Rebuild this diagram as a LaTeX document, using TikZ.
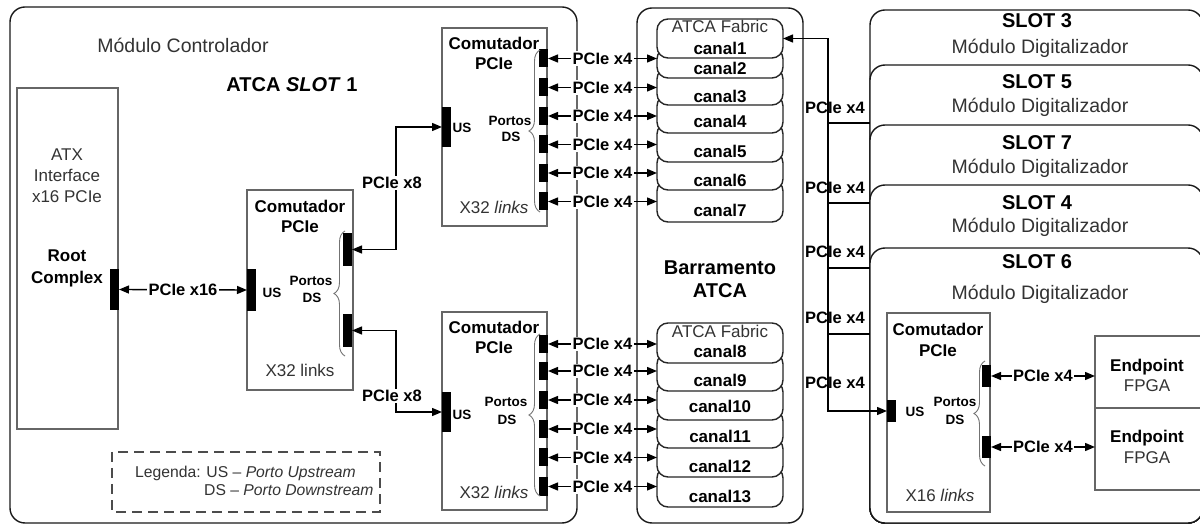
\documentclass[tikz,border=0pt]{standalone}
\usepackage{fontspec}
\setmainfont{Liberation Sans}
\usetikzlibrary{arrows.meta,decorations.pathreplacing}
\begin{document}
\begin{tikzpicture}[x=1pt,y=-1pt, >={Triangle[length=10pt,width=8pt]},
  frame/.style={draw=black!90, line width=1.4pt, rounded corners=15pt, fill=white, inner sep=0pt, outer sep=0pt, anchor=north west},
  rect/.style={draw=black!60, line width=1.3pt, fill=white, inner sep=0pt, outer sep=0pt, anchor=north west},
  port/.style={fill=black, draw=none, inner sep=0pt, outer sep=0pt, minimum width=9pt},
  canalbox/.style={draw=black!85, line width=1.4pt, rounded corners=11pt, fill=white, inner sep=0pt, outer sep=0pt, anchor=north west, minimum width=126pt},
  ln/.style={line width=1.4pt, draw=black},
  brc/.style={draw=black!55, line width=0.9pt, decorate, decoration={brace, amplitude=11pt}},
  lbl/.style={font=\fontsize{16.5}{18}\selectfont\bfseries, fill=white, inner sep=1.5pt},
  blbl/.style={font=\fontsize{16.5}{18}\selectfont\bfseries, inner sep=0pt},
  tR/.style={font=\fontsize{17}{20}\selectfont, text=black!80, anchor=base, inner sep=0pt},
  tB/.style={font=\fontsize{17}{20}\selectfont\bfseries, anchor=base, inner sep=0pt},
  tBig/.style={font=\fontsize{20}{23}\selectfont\bfseries, anchor=base, inner sep=0pt},
  tMid/.style={font=\fontsize{19.5}{22}\selectfont, text=black!80, anchor=base, inner sep=0pt},
  tS/.style={font=\fontsize{13.5}{15}\selectfont\bfseries, anchor=base, inner sep=0pt},
  tL/.style={font=\fontsize{15.7}{18}\selectfont, text=black!80, anchor=base west, inner sep=0pt},
]
\clip (0,0) rectangle (1200,526);
\fill[white] (0,0) rectangle (1200,526);

% main frames
\node[frame, minimum width=567pt, minimum height=516pt] (ctrl) at (10,7) {};
\node[frame, minimum width=166pt, minimum height=515pt] (bp) at (637,8) {};
\node[frame, minimum width=333pt, minimum height=513pt] (s3) at (870,10) {};
\node[frame, minimum width=333pt, minimum height=458pt] (s5) at (870,65) {};
\node[frame, minimum width=333pt, minimum height=398pt] (s7) at (870,125) {};
\node[frame, minimum width=333pt, minimum height=338pt] (s4) at (870,185) {};
\node[frame, minimum width=333pt, minimum height=275pt] (s6) at (870,248) {};

% rectangles
\node[rect, minimum width=101pt, minimum height=341pt] (atx) at (17,88) {};
\node[rect, minimum width=106pt, minimum height=200pt] (sw1) at (247,190) {};
\node[rect, minimum width=105pt, minimum height=198pt] (swa) at (442,28) {};
\node[rect, minimum width=105pt, minimum height=198pt] (swb) at (442,312) {};
\node[rect, minimum width=103pt, minimum height=199pt] (sw3) at (887,313) {};
\node[rect, minimum width=107pt, minimum height=72pt] (ep1) at (1095,336) {};
\node[rect, minimum width=107pt, minimum height=82pt] (ep2) at (1095,408) {};
\draw[dashed, dash pattern=on 10pt off 6pt, draw=black!70, line width=1.3pt] (112,452) rectangle (380,512);

% ports
\node[port, minimum height=41pt] (root) at (114.5,289.5) {};
\node[port, minimum height=42pt] (us1) at (251.5,290) {};
\node[port, minimum height=33pt] (ds1a) at (347.5,249.5) {};
\node[port, minimum height=33pt] (ds1b) at (347.5,330.5) {};
\node[port, minimum height=40pt] (usa) at (446.5,127) {};
\node[port, minimum height=40pt] (usb) at (446.5,412) {};
\node[port, minimum height=18pt] (pa1) at (543.5,58.5) {};
\node[port, minimum height=18pt] (pa2) at (543.5,87.5) {};
\node[port, minimum height=18pt] (pa3) at (543.5,116) {};
\node[port, minimum height=18pt] (pa4) at (543.5,144.5) {};
\node[port, minimum height=18pt] (pa5) at (543.5,173) {};
\node[port, minimum height=18pt] (pa6) at (543.5,201.5) {};
\node[port, minimum height=18pt] (pb1) at (543.5,344) {};
\node[port, minimum height=18pt] (pb2) at (543.5,371) {};
\node[port, minimum height=18pt] (pb3) at (543.5,400) {};
\node[port, minimum height=18pt] (pb4) at (543.5,429) {};
\node[port, minimum height=18pt] (pb5) at (543.5,457.5) {};
\node[port, minimum height=18pt] (pb6) at (543.5,486.5) {};
\node[port, minimum height=22pt] (us3) at (891.5,411) {};
\node[port, minimum height=22pt] (ds3a) at (986.5,376) {};
\node[port, minimum height=22pt] (ds3b) at (986.5,447) {};

% braces
\draw[brc] (345,356) -- (345,231);
\draw[brc] (540,212) -- (540,50);
\draw[brc] (540,496) -- (540,334);
\draw[brc] (985,466) -- (985,361);

% canal boxes (upper)
\node[canalbox, minimum height=42pt] (c7) at (657,180) {};
\node[canalbox, minimum height=38pt] (c6) at (657,152) {};
\node[canalbox, minimum height=39pt] (c5) at (657,123) {};
\node[canalbox, minimum height=38pt] (c4) at (657,95) {};
\node[canalbox, minimum height=37pt] (c3) at (657,68) {};
\node[canalbox, minimum height=30pt] (c2) at (657,48) {};
\node[canalbox, minimum height=39pt] (c1) at (657,19) {};
% canal boxes (lower)
\node[canalbox, minimum height=40pt] (c13) at (657,467) {};
\node[canalbox, minimum height=39pt] (c12) at (657,438) {};
\node[canalbox, minimum height=38pt] (c11) at (657,410) {};
\node[canalbox, minimum height=39pt] (c10) at (657,381) {};
\node[canalbox, minimum height=38pt] (c9) at (657,353) {};
\node[canalbox, minimum height=40pt] (c8) at (657,323) {};

% connectors
\draw[ln,<->] (root.east) -- (us1.west) node[lbl,midway] {PCIe x16};
\draw[ln,<->] (ds1a.east) -- ++(44,0) |- (usa.west);
\node[lbl] (x8a) at (392,183) {PCIe x8};
\draw[ln,<->] (ds1b.east) -- ++(44,0) |- (usb.west);
\node[lbl] (x8b) at (392,396) {PCIe x8};

\draw[ln,<->] (pa1.east) -- (pa1.east -| c1.west) node[lbl,midway] {PCIe x4};
\draw[ln,<->] (pa2.east) -- (pa2.east -| c2.west) node[lbl,midway] {PCIe x4};
\draw[ln,<->] (pa3.east) -- (pa3.east -| c3.west) node[lbl,midway] {PCIe x4};
\draw[ln,<->] (pa4.east) -- (pa4.east -| c4.west) node[lbl,midway] {PCIe x4};
\draw[ln,<->] (pa5.east) -- (pa5.east -| c5.west) node[lbl,midway] {PCIe x4};
\draw[ln,<->] (pa6.east) -- (pa6.east -| c6.west) node[lbl,midway] {PCIe x4};
\draw[ln,<->] (pb1.east) -- (pb1.east -| c8.west) node[lbl,midway] {PCIe x4};
\draw[ln,<->] (pb2.east) -- (pb2.east -| c9.west) node[lbl,midway] {PCIe x4};
\draw[ln,<->] (pb3.east) -- (pb3.east -| c10.west) node[lbl,midway] {PCIe x4};
\draw[ln,<->] (pb4.east) -- (pb4.east -| c11.west) node[lbl,midway] {PCIe x4};
\draw[ln,<->] (pb5.east) -- (pb5.east -| c12.west) node[lbl,midway] {PCIe x4};
\draw[ln,<->] (pb6.east) -- (pb6.east -| c13.west) node[lbl,midway] {PCIe x4};

\draw[ln,<->] (ds3a.east) -- (ds3a.east -| ep1.west) node[lbl,midway] {PCIe x4};
\draw[ln,<->] (ds3b.east) -- (ds3b.east -| ep2.west) node[lbl,midway] {PCIe x4};

% bus to digitizer slots
\coordinate (bus) at (828,38.5);
\coordinate (j5) at (828,123);
\coordinate (j4) at (828,203);
\coordinate (j6a) at (828,268);
\coordinate (j6b) at (828,334);
\draw[ln,<->] (c1.east) -- (bus) |- (us3.west);
\draw[ln] (j5) -- (j5 -| s5.west);
\draw[ln] (j4) -- (j4 -| s4.west);
\draw[ln] (j6a) -- (j6a -| s6.west);
\draw[ln] (j6b) -- (j6b -| s6.west);
\node[blbl] (bl1) at (835,107.5) {PCIe x4};
\node[blbl] (bl2) at (835,188) {PCIe x4};
\node[blbl] (bl3) at (835,252) {PCIe x4};
\node[blbl] (bl4) at (835,317.5) {PCIe x4};
\node[blbl] (bl5) at (835,383) {PCIe x4};

% texts: controller
\node[tMid] (tctrl) at (183,53) {Módulo Controlador};
\node[tBig] (tslot1) at (292,92) {ATCA \textit{SLOT} 1};
\node[tR] (tatx1) at (67,161) {ATX};
\node[tR] (tatx2) at (67,182) {Interface};
\node[tR] (tatx3) at (67,203) {x16 PCIe};
\node[tB] (troot1) at (67,262) {Root};
\node[tB] (troot2) at (67,284) {Complex};

\node[tB] (tsw1a) at (300,213) {Comutador};
\node[tB] (tsw1b) at (300,233) {PCIe};
\node[tR] (tsw1c) at (300,377) {X32 links};
\node[tS] (tus1) at (272,298) {US};
\node[tS] (tpo1) at (311,286) {Portos};
\node[tS] (tds1) at (312,303) {DS};

\node[tB] (tswaa) at (494,50) {Comutador};
\node[tB] (tswab) at (494,70) {PCIe};
\node[tR] (tswac) at (494,214) {X32 \textit{links}};
\node[tS] (tusa) at (462,133) {US};
\node[tS] (tpoa) at (510,126) {Portos};
\node[tS] (tdsa) at (511,142) {DS};

\node[tB] (tswba) at (494,334) {Comutador};
\node[tB] (tswbb) at (494,354) {PCIe};
\node[tR] (tswbc) at (494,498) {X32 \textit{links}};
\node[tS] (tusb) at (462,420) {US};
\node[tS] (tpob) at (506,407) {Portos};
\node[tS] (tdsb) at (507,425) {DS};

\node[tL] (leg1) at (135,478) {Legenda: US – \textit{Porto Upstream}};
\node[tL] (leg2) at (204,496) {DS – \textit{Porto Downstream}};

% texts: backplane
\node[tBig] (tbp1) at (720,275) {Barramento};
\node[tBig] (tbp2) at (720,298) {ATCA};
\node[tR] (fab1) at (720,33) {ATCA Fabric};
\node[tB] (tc1) at (720,55) {canal1};
\node[tB] (tc2) at (720,75) {canal2};
\node[tB] (tc3) at (720,103) {canal3};
\node[tB] (tc4) at (720,128) {canal4};
\node[tB] (tc5) at (720,158) {canal5};
\node[tB] (tc6) at (720,187) {canal6};
\node[tB] (tc7) at (720,217) {canal7};
\node[tR] (fab2) at (720,338) {ATCA Fabric};
\node[tB] (tc8) at (720,358) {canal8};
\node[tB] (tc9) at (720,387) {canal9};
\node[tB] (tc10) at (720,413) {canal10};
\node[tB] (tc11) at (720,443) {canal11};
\node[tB] (tc12) at (720,472) {canal12};
\node[tB] (tc13) at (720,502) {canal13};

% texts: digitizer slots
\node[tBig] (ts3) at (1037,28) {SLOT 3};
\node[tMid] (tm3) at (1040,54) {Módulo Digitalizador};
\node[tBig] (ts5) at (1037,89) {SLOT 5};
\node[tMid] (tm5) at (1040,113) {Módulo Digitalizador};
\node[tBig] (ts7) at (1037,150) {SLOT 7};
\node[tMid] (tm7) at (1040,174) {Módulo Digitalizador};
\node[tBig] (ts4) at (1037,210) {SLOT 4};
\node[tMid] (tm4) at (1040,233) {Módulo Digitalizador};
\node[tBig] (ts6) at (1037,269) {SLOT 6};
\node[tMid] (tm6) at (1040,300) {Módulo Digitalizador};

\node[tB] (tsw3a) at (938,336) {Comutador};
\node[tB] (tsw3b) at (938,357) {PCIe};
\node[tR] (tsw3c) at (940,501) {X16 \textit{links}};
\node[tS] (tus3) at (915,417) {US};
\node[tS] (tpo3) at (955,407) {Portos};
\node[tS] (tds3) at (955,425) {DS};

\node[tB] (tep1) at (1147,372) {Endpoint};
\node[tR] (tfp1) at (1147,392) {FPGA};
\node[tB] (tep2) at (1147,443) {Endpoint};
\node[tR] (tfp2) at (1147,464) {FPGA};
\end{tikzpicture}
\end{document}
